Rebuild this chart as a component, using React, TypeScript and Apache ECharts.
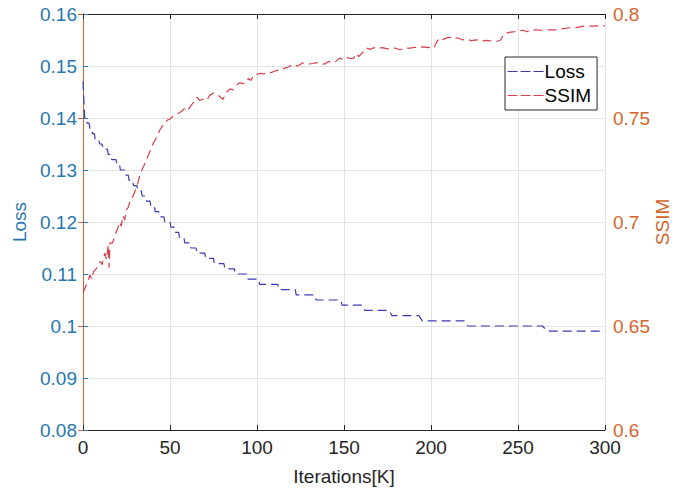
import React, { useEffect, useRef } from "react";
import * as echarts from "echarts";

const xTicks = [0, 50, 100, 150, 200, 250, 300];

const lossIter = [
  0, 1, 2, 2.3, 3.5, 4, 5, 5.5, 6.5, 7, 9, 9.5, 11, 11.5, 14, 14.5, 16, 16.5, 19, 19.5, 21, 21.5, 24,
  24.5, 26, 26.5, 28.5, 29, 31, 31.5, 33.5, 34, 36, 36.5, 38.5, 39, 41, 41.5, 43.5, 44, 46.5, 47, 50,
  50.5, 52.5, 53, 55, 55.5, 58, 58.5, 61.5, 62, 65, 65.5, 70, 70.5, 75, 75.5, 81, 81.5, 87, 87.5, 94,
  94.5, 101, 101.5, 112, 112.5, 122, 122.5, 133, 134, 148, 149, 160.5, 162, 176, 177.5, 193, 195, 219,
  221, 264, 267, 300,
];
const lossValue = [
  0.147, 0.14, 0.14, 0.139, 0.139, 0.138, 0.138, 0.137, 0.137, 0.136, 0.136, 0.135, 0.135, 0.134, 0.134,
  0.133, 0.133, 0.132, 0.132, 0.131, 0.131, 0.13, 0.13, 0.129, 0.129, 0.128, 0.128, 0.127, 0.127, 0.126,
  0.126, 0.125, 0.125, 0.124, 0.124, 0.123, 0.123, 0.122, 0.122, 0.121, 0.121, 0.12, 0.12, 0.119, 0.119,
  0.118, 0.118, 0.117, 0.117, 0.116, 0.116, 0.115, 0.115, 0.114, 0.114, 0.113, 0.113, 0.112, 0.112,
  0.111, 0.111, 0.11, 0.11, 0.109, 0.109, 0.108, 0.108, 0.107, 0.107, 0.106, 0.106, 0.105, 0.105, 0.104,
  0.104, 0.103, 0.103, 0.102, 0.102, 0.101, 0.101, 0.1, 0.1, 0.099, 0.099,
];

const ssimIter = [
  0, 1.5, 3, 4, 5, 6, 8, 10, 11, 12.5, 13.5, 14.5, 15, 15.5, 17, 18.5, 20, 21, 22, 23, 24, 25, 26, 27,
  28, 29, 31, 33, 35, 37, 39, 40.5, 42.5, 44, 45.5, 47, 48.5, 50, 52, 54, 55.5, 57, 59, 60.5, 62, 64,
  65.5, 67, 69, 71, 73, 75, 77, 79, 80.5, 82, 84.5, 86, 88.5, 90, 92, 94, 95, 96.5, 98, 100, 102, 104,
  106, 108, 110, 112, 114, 116, 118, 120, 122, 124, 126, 128, 130, 132, 134.5, 137, 139, 141, 143, 145,
  147.5, 150, 152, 154, 155.5, 157, 158.5, 160, 162, 163, 165, 167, 169, 172, 175, 177, 180, 182, 185,
  188, 191, 194, 196, 198, 200, 201.5, 203, 205, 207, 209, 211, 213, 215, 218, 221, 223, 226, 229, 232,
  235, 238, 240, 242, 245, 248, 251, 253, 255, 257, 260, 264, 268, 272, 276, 280, 284, 288, 292, 296, 300,
];
const ssimValue = [
  0.666, 0.669, 0.672, 0.6745, 0.6725, 0.676, 0.678, 0.681, 0.6795, 0.685, 0.682, 0.689, 0.678, 0.69,
  0.69, 0.694, 0.697, 0.7, 0.698, 0.703, 0.701, 0.706, 0.707, 0.71, 0.711, 0.713, 0.717, 0.7235, 0.727,
  0.731, 0.735, 0.738, 0.741, 0.744, 0.746, 0.747, 0.749, 0.7495, 0.751, 0.752, 0.7525, 0.7535, 0.755,
  0.754, 0.756, 0.758, 0.76, 0.7585, 0.759, 0.7585, 0.761, 0.762, 0.7615, 0.76, 0.759, 0.762, 0.764,
  0.7635, 0.766, 0.767, 0.7665, 0.767, 0.769, 0.768, 0.7705, 0.771, 0.7715, 0.7712, 0.772, 0.7718,
  0.7725, 0.773, 0.7728, 0.774, 0.7745, 0.7755, 0.775, 0.7752, 0.7764, 0.7765, 0.776, 0.7762, 0.7766,
  0.7758, 0.776, 0.7772, 0.7765, 0.777, 0.7788, 0.778, 0.779, 0.7785, 0.7788, 0.781, 0.7795, 0.781,
  0.7825, 0.7836, 0.783, 0.7838, 0.7835, 0.7838, 0.7832, 0.7838, 0.7835, 0.7828, 0.7836, 0.7836, 0.784,
  0.784, 0.7842, 0.7838, 0.784, 0.7835, 0.7862, 0.7885, 0.7878, 0.7885, 0.7888, 0.788, 0.7886, 0.7876,
  0.7878, 0.7872, 0.7876, 0.787, 0.7873, 0.787, 0.7868, 0.7875, 0.7905, 0.7912, 0.7915, 0.792, 0.7922,
  0.7915, 0.7922, 0.7924, 0.7922, 0.7924, 0.7924, 0.793, 0.7934, 0.7936, 0.7942, 0.7942, 0.7943, 0.7943,
];

const FONT = "'Liberation Sans', Arial, Helvetica, sans-serif";
const LEFT_COLOR = "#2677b0";
const RIGHT_COLOR = "#d2652c";
const AXIS_DARK = "#262626";
const LOSS_COLOR = "#3b3bb5";
const SSIM_COLOR = "#d8404a";

export default function App() {
  const ref = useRef<HTMLDivElement>(null);

  useEffect(() => {
    if (!ref.current) return;
    const chart = echarts.init(ref.current, undefined, { renderer: "svg" });
    const lossData = lossIter.map((x, i) => [x, lossValue[i]]);
    const ssimData = ssimIter.map((x, i) => [x, ssimValue[i]]);
    chart.setOption({
      animation: false,
      backgroundColor: "#ffffff",
      textStyle: { fontFamily: FONT },
      grid: {
        left: 83,
        right: 73,
        top: 14,
        bottom: 62,
        containLabel: false,
        outerBoundsMode: "none",
      },
      legend: {
        orient: "vertical",
        left: 505,
        top: 57,
        backgroundColor: "#ffffff",
        borderColor: AXIS_DARK,
        borderWidth: 1,
        borderRadius: 0,
        padding: [5, 6, 5, 2],
        itemGap: 5,
        itemWidth: 36,
        itemHeight: 20,
        itemStyle: { opacity: 0 },
        lineStyle: { type: [10, 3], width: 1.2 },
        textStyle: { fontSize: 19, color: "#000000", fontFamily: FONT, padding: [0, 0, 0, -4] },
        data: ["Loss", "SSIM"],
      },
      xAxis: [
        {
          type: "value",
          position: "bottom",
          min: 0,
          max: 300,
          interval: 50,
          name: "Iterations[K]",
          nameLocation: "middle",
          nameGap: 37,
          nameTextStyle: { fontSize: 19, color: AXIS_DARK, fontFamily: FONT },
          axisLine: { show: true, lineStyle: { color: AXIS_DARK, width: 1 } },
          axisTick: { show: true, inside: true, length: 5, lineStyle: { color: AXIS_DARK } },
          axisLabel: {
            color: AXIS_DARK,
            fontSize: 19,
            fontFamily: FONT,
            margin: 8,
            formatter: (v: number) => (xTicks.includes(v) ? String(v) : ""),
          },
          splitLine: { show: true, lineStyle: { color: "#e3e3e3", width: 1 } },
        },
        {
          type: "value",
          position: "top",
          min: 0,
          max: 300,
          interval: 50,
          axisLine: { show: true, lineStyle: { color: AXIS_DARK, width: 1 } },
          axisTick: { show: true, inside: true, length: 5, lineStyle: { color: AXIS_DARK } },
          axisLabel: { show: false },
          splitLine: { show: false },
        },
      ],
      yAxis: [
        {
          type: "value",
          position: "left",
          min: 0.08,
          max: 0.16,
          interval: 0.01,
          name: "Loss",
          nameLocation: "middle",
          nameRotate: 90,
          nameGap: 54,
          nameTextStyle: { fontSize: 19, color: LEFT_COLOR, fontFamily: FONT },
          axisLine: { show: true, lineStyle: { color: LEFT_COLOR, width: 1 } },
          axisTick: { show: true, inside: true, length: 5, lineStyle: { color: LEFT_COLOR } },
          axisLabel: {
            color: LEFT_COLOR,
            fontSize: 19,
            fontFamily: FONT,
            margin: 6,
            formatter: (v: number) => String(parseFloat(v.toFixed(2))),
          },
          splitLine: { show: true, lineStyle: { color: "#e3e3e3", width: 1 } },
        },
        {
          type: "value",
          position: "right",
          min: 0.6,
          max: 0.8,
          interval: 0.05,
          name: "SSIM",
          nameLocation: "middle",
          nameRotate: 90,
          nameGap: 48,
          nameMoveOverlap: false,
          nameTextStyle: { fontSize: 19, color: RIGHT_COLOR, fontFamily: FONT },
          axisLine: { show: true, lineStyle: { color: RIGHT_COLOR, width: 1 } },
          axisTick: { show: true, inside: true, length: 5, lineStyle: { color: RIGHT_COLOR } },
          axisLabel: {
            color: RIGHT_COLOR,
            fontSize: 19,
            fontFamily: FONT,
            margin: 8,
            formatter: (v: number) => String(parseFloat(v.toFixed(2))),
          },
          splitLine: { show: false },
        },
      ],
      series: [
        {
          name: "Loss",
          type: "line",
          xAxisIndex: 0,
          yAxisIndex: 0,
          data: lossData,
          showSymbol: false,
          symbol: "none",
          lineStyle: { color: LOSS_COLOR, width: 1.2, type: [9, 5] },
          itemStyle: { color: LOSS_COLOR },
        },
        {
          name: "SSIM",
          type: "line",
          xAxisIndex: 0,
          yAxisIndex: 1,
          data: ssimData,
          showSymbol: false,
          symbol: "none",
          lineStyle: { color: SSIM_COLOR, width: 1.2, type: [9, 5] },
          itemStyle: { color: SSIM_COLOR },
        },
      ],
    });
    return () => chart.dispose();
  }, []);

  return (
    <div
      ref={ref}
      style={{ position: "fixed", left: 0, top: 0, width: 678, height: 492, background: "#fff" }}
    />
  );
}
